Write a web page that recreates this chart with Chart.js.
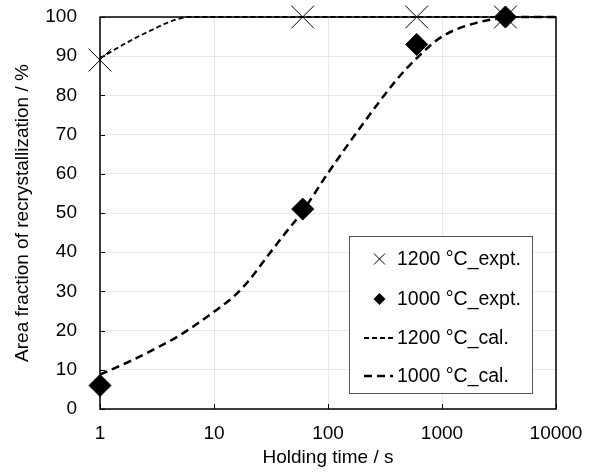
<!DOCTYPE html>
<html>
<head>
<meta charset="utf-8">
<script src="https://cdn.jsdelivr.net/npm/chart.js@4"></script>
<style>
  body { margin: 0; background: #fff; }
  #wrap { width: 594px; height: 473px; }
</style>
</head>
<body>
<div id="wrap"><canvas id="myChart"></canvas></div>
<script>
  // measured points
  const times1200 = [1, 60, 600, 3600];
  const expt1200 = [89, 100, 100, 100];
  const times1000 = [1, 60, 600, 3600];
  const expt1000 = [6, 51, 93, 100];

  // calculated curves
  const calTimes1200 = [1, 2, 3, 4, 5, 6, 10000];
  const cal1200 = [89.5, 94.5, 97, 98.7, 99.6, 100, 100];
  const calTimes1000 = [1, 2, 3, 5, 10, 15, 20, 30, 40, 60, 100, 200, 400, 600, 1000, 2000, 5000, 10000];
  const cal1000 = [8.8, 12.7, 15.3, 18.8, 24.8, 28.8, 32.6, 39.3, 44, 50.5, 60.2, 72.5, 84, 89.5, 95, 98.5, 100, 100];

  const xTicks = [1, 10, 100, 1000, 10000];
  const yTicks = [0, 10, 20, 30, 40, 50, 60, 70, 80, 90, 100];

  const legendLabels = ["1200 °C_expt.", "1000 °C_expt.", "1200 °C_cal.", "1000 °C_cal."];

  const pts = (xs, ys) => xs.map((x, i) => ({ x: x, y: ys[i] }));

  const data = {
    datasets: [
      {
        label: legendLabels[2],
        data: pts(calTimes1200, cal1200),
        borderColor: "#000",
        borderWidth: 1.8,
        borderDash: [5, 3],
        pointRadius: 0,
        cubicInterpolationMode: "monotone",
        showLine: true,
        clip: false,
      },
      {
        label: legendLabels[3],
        data: pts(calTimes1000, cal1000),
        borderColor: "#000",
        borderWidth: 2.5,
        borderDash: [8, 5],
        pointRadius: 0,
        cubicInterpolationMode: "monotone",
        showLine: true,
        clip: false,
      },
      {
        label: legendLabels[0],
        data: pts(times1200, expt1200),
        showLine: false,
        pointStyle: "crossRot",
        pointRadius: 16,
        borderColor: "#000",
        borderWidth: 1,
        clip: false,
      },
      {
        label: legendLabels[1],
        data: pts(times1000, expt1000),
        showLine: false,
        pointStyle: "rectRot",
        pointRadius: 11,
        backgroundColor: "#000",
        borderColor: "#000",
        borderWidth: 1,
        clip: false,
      },
    ],
  };

  // frame + inward tick marks
  const framePlugin = {
    id: "frame",
    afterDatasetsDraw(chart) {
      const { ctx, chartArea: a, scales } = chart;
      ctx.save();
      ctx.strokeStyle = "#000";
      ctx.lineWidth = 1.5;
      ctx.strokeRect(a.left, a.top, a.right - a.left, a.bottom - a.top);
      ctx.lineWidth = 1;
      ctx.beginPath();
      xTicks.forEach((v) => {
        const px = Math.round(scales.x.getPixelForValue(v)) + 0.5;
        ctx.moveTo(px, a.bottom);
        ctx.lineTo(px, a.bottom - 5);
      });
      yTicks.forEach((v) => {
        const py = Math.round(scales.y.getPixelForValue(v)) + 0.5;
        ctx.moveTo(a.left, py);
        ctx.lineTo(a.left + 5, py);
      });
      ctx.stroke();
      ctx.restore();
    },
  };

  // legend box inside the plot
  const legendPlugin = {
    id: "boxLegend",
    afterDraw(chart) {
      const ctx = chart.ctx;
      const bx = 349.5, by = 236.5, bw = 183, bh = 157;
      const rows = [259, 299, 338, 376];
      ctx.save();
      ctx.fillStyle = "#fff";
      ctx.fillRect(bx, by, bw, bh);
      ctx.strokeStyle = "#555";
      ctx.lineWidth = 1;
      ctx.strokeRect(bx, by, bw, bh);

      ctx.strokeStyle = "#000";
      ctx.fillStyle = "#000";
      // x marker
      ctx.beginPath();
      ctx.moveTo(374, rows[0] - 5.5); ctx.lineTo(385, rows[0] + 5.5);
      ctx.moveTo(385, rows[0] - 5.5); ctx.lineTo(374, rows[0] + 5.5);
      ctx.stroke();
      // diamond marker
      ctx.beginPath();
      ctx.moveTo(379.5, rows[1] - 6); ctx.lineTo(385.5, rows[1]);
      ctx.lineTo(379.5, rows[1] + 6); ctx.lineTo(373.5, rows[1]);
      ctx.closePath();
      ctx.fill();
      // short dashes
      ctx.lineWidth = 1.8;
      ctx.setLineDash([5, 3]);
      ctx.beginPath();
      ctx.moveTo(364, rows[2]); ctx.lineTo(396, rows[2]);
      ctx.stroke();
      // long dashes
      ctx.lineWidth = 2.5;
      ctx.setLineDash([8, 5]);
      ctx.beginPath();
      ctx.moveTo(364, rows[3]); ctx.lineTo(393, rows[3]);
      ctx.stroke();
      ctx.setLineDash([]);

      ctx.font = "19.5px 'Liberation Sans', Arial, sans-serif";
      ctx.textBaseline = "middle";
      ctx.textAlign = "left";
      legendLabels.forEach((t, i) => ctx.fillText(t, 397, rows[i] + 1));
      ctx.restore();
    },
  };

  const config = {
    type: "scatter",
    data: data,
    options: {
      responsive: true,
      maintainAspectRatio: false,
      animation: false,
      layout: { padding: { top: 16, right: 38, left: 0, bottom: 0 } },
      plugins: {
        legend: { display: false },
        tooltip: { enabled: false },
      },
      scales: {
        x: {
          type: "logarithmic",
          min: 1,
          max: 10000,
          afterFit: (s) => { s.height = 64; s.paddingLeft = 0; s.paddingRight = 0; },
          afterBuildTicks: (s) => { s.ticks = xTicks.map((v) => ({ value: v })); },
          ticks: {
            color: "#000",
            padding: 13,
            font: { family: "'Liberation Sans', Arial", size: 19 },
            callback: (v) => String(v),
          },
          grid: { color: "#e8e8e8", drawTicks: false },
          border: { display: false },
          title: {
            display: true,
            text: "Holding time / s",
            color: "#000",
            font: { family: "'Liberation Sans', Arial", size: 19 },
            padding: { top: 0, bottom: 4 },
          },
        },
        y: {
          min: 0,
          max: 100,
          afterFit: (s) => { s.width = 100; s.paddingTop = 0; s.paddingBottom = 0; },
          ticks: {
            stepSize: 10,
            color: "#000",
            padding: 23,
            font: { family: "'Liberation Sans', Arial", size: 19 },
          },
          grid: { color: "#e8e8e8", drawTicks: false },
          border: { display: false },
          title: {
            display: true,
            text: "Area fraction of recrystallization / %",
            color: "#000",
            font: { family: "'Liberation Sans', Arial", size: 19 },
            padding: { top: 11, bottom: 0 },
          },
        },
      },
    },
    plugins: [framePlugin, legendPlugin],
  };

  const myChart = new Chart(document.getElementById("myChart"), config);
</script>
</body>
</html>
